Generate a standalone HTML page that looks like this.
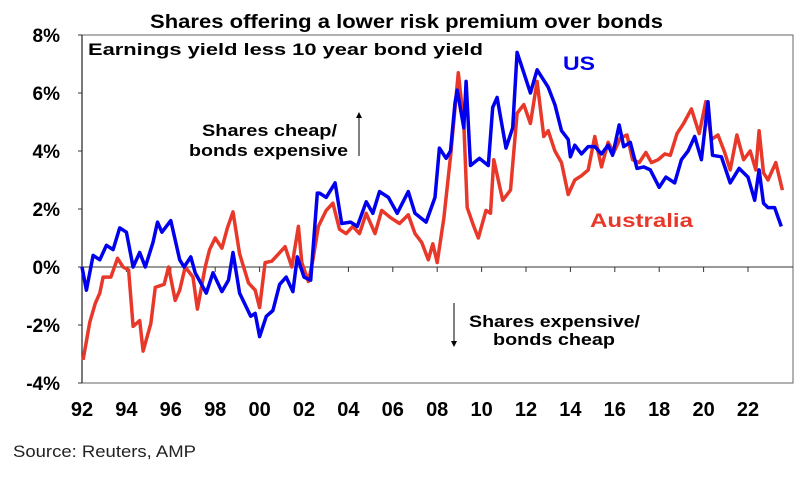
<!DOCTYPE html>
<html><head><meta charset="utf-8"><style>
body{margin:0;background:#fff;}
svg text{font-family:"Liberation Sans",Arial,sans-serif;}
</style></head><body>
<svg id="chart" width="810" height="482" viewBox="0 0 810 482" xmlns="http://www.w3.org/2000/svg">
<text x="150" y="28" font-size="19.5" font-weight="bold" textLength="513" lengthAdjust="spacingAndGlyphs">Shares offering a lower risk premium over bonds</text>
<g id="axes"></g>
<g id="series"></g>
<text x="88" y="55" font-size="17" font-weight="bold" textLength="395" lengthAdjust="spacingAndGlyphs">Earnings yield less 10 year bond yield</text>
<text x="563" y="70" font-size="19.5" font-weight="bold" fill="#0000ee" textLength="32" lengthAdjust="spacingAndGlyphs">US</text>
<text x="590" y="227" font-size="19.5" font-weight="bold" fill="#e8382a" textLength="103" lengthAdjust="spacingAndGlyphs">Australia</text>
<g>
<text x="202" y="136" font-size="16.5" font-weight="bold" textLength="135" lengthAdjust="spacingAndGlyphs">Shares cheap/</text>
<text x="189" y="156" font-size="16.5" font-weight="bold" textLength="159" lengthAdjust="spacingAndGlyphs">bonds expensive</text>
<line x1="359" y1="156" x2="359" y2="117" stroke="#000" stroke-width="1"/>
<path d="M356,118 L359,112 L362,118 Z" fill="#000"/>
</g>
<g>
<text x="469" y="327" font-size="16.5" font-weight="bold" textLength="171" lengthAdjust="spacingAndGlyphs">Shares expensive/</text>
<text x="493" y="345" font-size="16.5" font-weight="bold" textLength="122" lengthAdjust="spacingAndGlyphs">bonds cheap</text>
<line x1="454" y1="303" x2="454" y2="342" stroke="#000" stroke-width="1"/>
<path d="M451,341 L454,347 L457,341 Z" fill="#000"/>
</g>
<text x="13" y="457" font-size="17" fill="#222" textLength="183" lengthAdjust="spacingAndGlyphs">Source: Reuters, AMP</text>
</svg>
<script>
const usYears=[1992.0,1992.2,1992.5,1992.8,1993.1,1993.4,1993.7,1994.0,1994.3,1994.6,1994.85,1995.2,1995.4,1995.6,1996.0,1996.4,1996.6,1996.9,1997.1,1997.6,1997.9,1998.3,1998.6,1998.8,1999.1,1999.6,1999.8,2000.0,2000.3,2000.6,2000.9,2001.2,2001.5,2001.7,2002.0,2002.3,2002.6,2002.7,2003.0,2003.4,2003.7,2004.1,2004.4,2004.8,2005.1,2005.4,2005.8,2006.2,2006.7,2007.0,2007.5,2007.9,2008.1,2008.4,2008.6,2008.8,2008.9,2009.2,2009.3,2009.5,2009.9,2010.3,2010.5,2010.7,2011.1,2011.4,2011.6,2011.9,2012.2,2012.5,2013.0,2013.3,2013.6,2013.9,2014.0,2014.2,2014.5,2014.8,2015.1,2015.4,2015.7,2015.9,2016.2,2016.4,2016.7,2017.0,2017.3,2017.6,2018.0,2018.3,2018.7,2019.0,2019.3,2019.6,2019.9,2020.2,2020.4,2020.8,2021.2,2021.6,2022.0,2022.3,2022.5,2022.7,2022.9,2023.2,2023.5];
const usValues=[0.0,-0.8,0.4,0.25,0.75,0.6,1.35,1.2,0.0,0.5,0.0,0.85,1.55,1.2,1.6,0.25,0.0,0.35,-0.2,-0.9,-0.2,-0.85,-0.45,0.5,-0.9,-1.7,-1.6,-2.4,-1.7,-1.5,-0.6,-0.35,-0.85,0.35,-0.35,-0.45,2.55,2.55,2.4,2.9,1.5,1.55,1.4,2.25,1.85,2.6,2.4,1.85,2.6,1.85,1.55,2.4,4.1,3.75,4.0,5.65,6.1,4.8,6.4,3.5,3.75,3.5,5.5,5.85,4.1,4.8,7.4,6.7,6.0,6.8,6.2,5.6,4.7,4.4,3.8,4.2,3.9,4.15,4.15,3.9,4.2,3.85,4.9,4.15,4.3,3.4,3.45,3.35,2.75,3.1,2.9,3.7,4.0,4.5,3.7,5.7,3.85,3.8,2.9,3.4,3.1,2.3,3.35,2.2,2.05,2.05,1.4];
const auYears=[1992.05,1992.35,1992.6,1992.8,1992.95,1993.3,1993.6,1993.85,1994.1,1994.3,1994.6,1994.75,1995.1,1995.3,1995.7,1995.9,1996.2,1996.4,1996.65,1997.0,1997.2,1997.55,1997.75,1998.0,1998.3,1998.55,1998.8,1999.1,1999.5,1999.8,2000.0,2000.25,2000.55,2000.85,2001.15,2001.45,2001.75,2001.9,2002.2,2002.4,2002.65,2003.0,2003.3,2003.6,2003.9,2004.2,2004.5,2004.8,2005.2,2005.5,2005.9,2006.3,2006.7,2007.0,2007.3,2007.6,2007.8,2008.0,2008.3,2008.6,2008.95,2009.2,2009.35,2009.65,2009.85,2010.2,2010.4,2010.55,2010.95,2011.3,2011.6,2011.9,2012.2,2012.5,2012.8,2013.0,2013.3,2013.6,2013.9,2014.2,2014.5,2014.8,2015.1,2015.4,2015.7,2015.95,2016.25,2016.55,2016.8,2017.1,2017.4,2017.65,2017.95,2018.25,2018.5,2018.8,2019.1,2019.45,2019.8,2020.1,2020.35,2020.65,2020.95,2021.2,2021.5,2021.8,2022.1,2022.35,2022.5,2022.7,2022.9,2023.25,2023.55];
const auValues=[-3.2,-1.9,-1.25,-0.9,-0.35,-0.35,0.3,0.0,-0.1,-2.05,-1.85,-2.9,-1.95,-0.7,-0.6,0.0,-1.15,-0.8,0.0,-0.35,-1.45,0.0,0.6,1.0,0.65,1.35,1.9,0.45,-0.55,-0.8,-1.4,0.15,0.2,0.45,0.7,0.0,1.4,0.15,-0.5,0.25,1.4,1.95,2.2,1.3,1.15,1.4,1.15,1.85,1.15,1.95,1.7,1.5,1.8,1.15,0.85,0.25,0.8,0.15,1.7,3.8,6.7,4.95,2.05,1.4,1.0,1.95,1.85,3.7,2.3,2.65,5.3,5.6,4.95,6.4,4.5,4.7,4.0,3.6,2.5,3.0,3.15,3.35,4.5,3.45,4.3,3.95,4.45,4.55,3.7,3.6,3.95,3.6,3.7,3.9,3.85,4.6,4.95,5.45,4.6,5.7,4.4,4.55,3.95,3.35,4.55,3.7,4.0,3.35,4.7,3.25,3.0,3.6,2.65];
const yTicks=[8,6,4,2,0,-2,-4];
const yTickLabels=["8%","6%","4%","2%","0%","-2%","-4%"];
const xTickYears=[1992,1994,1996,1998,2000,2002,2004,2006,2008,2010,2012,2014,2016,2018,2020,2022];
const xTickLabels=["92","94","96","98","00","02","04","06","08","10","12","14","16","18","20","22"];

const L=82,R=793,T=35,B=383,YMIN=-4,YMAX=8,X0=1992,PXY=22.2;
function xs(yr){return L+(yr-X0)*PXY;}
function ys(v){return B-(v-YMIN)/(YMAX-YMIN)*(B-T);}
const NS="http://www.w3.org/2000/svg";
function mk(tag,attrs,parent){const e=document.createElementNS(NS,tag);for(const k in attrs)e.setAttribute(k,attrs[k]);parent.appendChild(e);return e;}
const ax=document.getElementById('axes');
const frame=mk('rect',{x:L,y:T,width:R-L,height:B-T,fill:'none',stroke:'#666','stroke-width':1},ax);


const yAxis=mk('line',{x1:L,y1:T,x2:L,y2:B,stroke:'#333','stroke-width':1.3},ax);


yTicks.forEach((v,i)=>{
  const tk=mk('line',{x1:L-4,y1:ys(v),x2:L,y2:ys(v),stroke:'#333'},ax);
  
  
  const t=mk('text',{x:60,y:ys(v)+7,'text-anchor':'end','font-size':19,'font-weight':'bold'},ax);
  t.textContent=yTickLabels[i];
  
  
});
const zl=mk('line',{x1:L,y1:ys(0),x2:R,y2:ys(0),stroke:'#333','stroke-width':1},ax);


xTickYears.forEach((yr,i)=>{
  const tk=mk('line',{x1:xs(yr),y1:ys(0),x2:xs(yr),y2:ys(0)+5,stroke:'#333'},ax);
  
  
  const t=mk('text',{x:xs(yr),y:416,'text-anchor':'middle','font-size':20,'font-weight':'bold'},ax);
  t.textContent=xTickLabels[i];
  
  
});
const sg=document.getElementById('series');
function line(years,vals,color){
  return mk('path',{d:years.map((y,i)=>(i?'L':'M')+xs(y).toFixed(1)+','+ys(vals[i]).toFixed(1)).join(' '),fill:'none',stroke:color,'stroke-width':3.5,'stroke-linejoin':'round'},sg);
}
const au=line(auYears,auValues,'#e8382a');


const us=line(usYears,usValues,'#0000ee');


</script>
</body></html>
